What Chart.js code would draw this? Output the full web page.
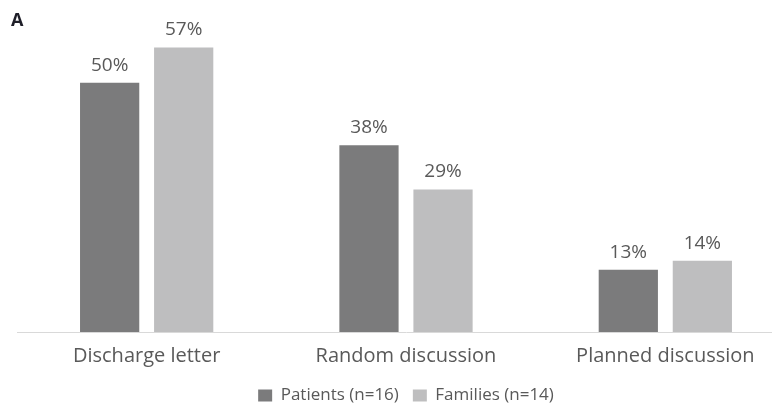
<!DOCTYPE html>
<html>
<head>
<meta charset="utf-8">
<script src="https://cdn.jsdelivr.net/npm/chart.js@4.4.0/dist/chart.umd.min.js"></script>
<style>
    html, body { margin: 0; padding: 0; background: #fff; overflow: hidden; }
    #wrap { width: 795px; height: 414px; position: relative; }
</style>
</head>
<body>
<div id="wrap"><canvas id="chart"></canvas></div>
<script>
    const categories = ['Discharge letter', 'Random discussion', 'Planned discussion'];
    const patients = [50, 37.5, 12.5];
    const families = [57.1, 28.6, 14.3];
    const seriesNames = ['Patients (n=16)', 'Families (n=14)'];

    // étiquettes au-dessus des barres + la lettre "A"
    const barLabels = {
        id: 'barLabels',
        afterDatasetsDraw(chart) {
            const ctx = chart.ctx;
            ctx.save();
            ctx.font = '19px "Open Sans"';
            ctx.fillStyle = '#595959';
            ctx.textAlign = 'center';
            ctx.textBaseline = 'alphabetic';
            chart.data.datasets.forEach(function (ds, i) {
                chart.getDatasetMeta(i).data.forEach(function (bar, j) {
                    ctx.fillText(Math.round(ds.data[j]) + '%', bar.x, bar.y - 12);
                });
            });
            ctx.font = 'bold 18px "Open Sans"';
            ctx.fillStyle = '#1e1e28';
            ctx.textAlign = 'left';
            ctx.fillText('A', 11, 26);
            ctx.restore();
        }
    };

    new Chart(document.getElementById('chart'), {
        type: 'bar',
        data: {
            labels: categories,
            datasets: [
                { label: seriesNames[0], data: patients, backgroundColor: '#7b7b7c' },
                { label: seriesNames[1], data: families, backgroundColor: '#bebebf' }
            ]
        },
        options: {
            responsive: true,
            maintainAspectRatio: false,
            animation: false,
            categoryPercentage: 0.571,
            barPercentage: 0.8,
            layout: { padding: { left: 17, right: 0, top: 33, bottom: 0 } },
            plugins: {
                tooltip: { enabled: false },
                legend: {
                    position: 'bottom',
                    labels: {
                        boxWidth: 14,
                        boxHeight: 12,
                        padding: 14,
                        color: '#595959',
                        font: { family: 'Open Sans', size: 17 }
                    }
                }
            },
            scales: {
                x: {
                    grid: { display: false },
                    border: { display: true, color: '#d9d9d9', width: 1 },
                    ticks: {
                        color: '#595959',
                        padding: 5,
                        font: { family: 'Open Sans', size: 20, lineHeight: 1.15 }
                    }
                },
                y: {
                    display: false,
                    min: 0,
                    max: 60
                }
            }
        },
        plugins: [barLabels]
    });
</script>
</body>
</html>
